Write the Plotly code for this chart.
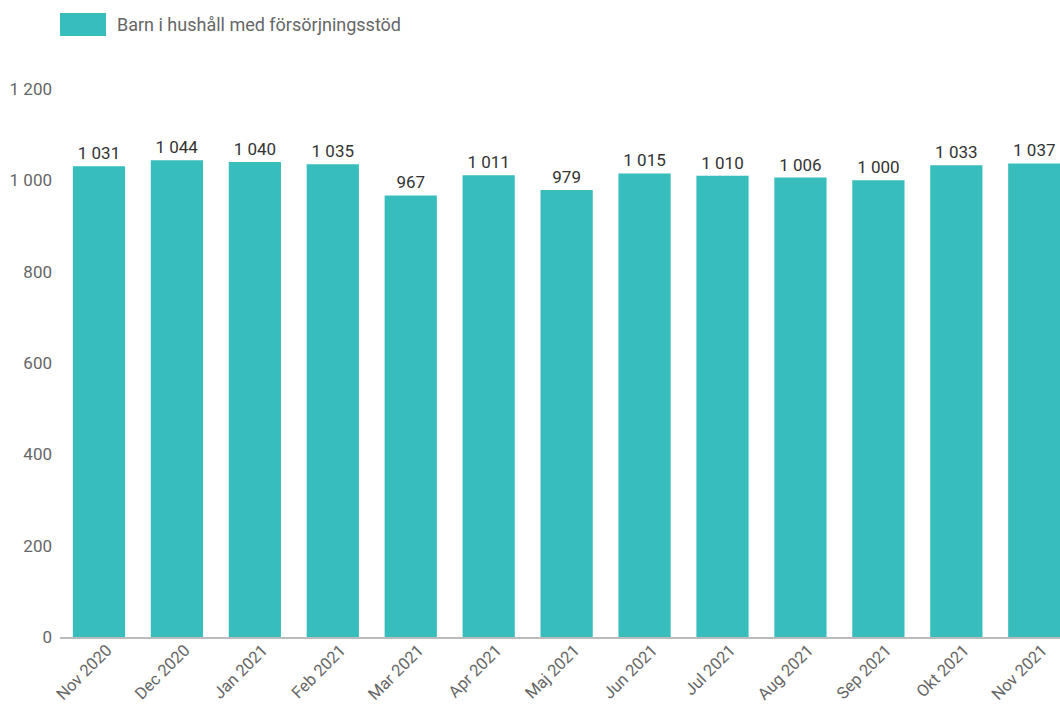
import plotly.graph_objects as go

months = ["Nov 2020", "Dec 2020", "Jan 2021", "Feb 2021", "Mar 2021", "Apr 2021",
          "Maj 2021", "Jun 2021", "Jul 2021", "Aug 2021", "Sep 2021", "Okt 2021", "Nov 2021"]
values = [1031, 1044, 1040, 1035, 967, 1011, 979, 1015, 1010, 1006, 1000, 1033, 1037]
series_name = "Barn i hushåll med försörjningsstöd"
y_ticks = [0, 200, 400, 600, 800, 1000, 1200]

bar_color = "#37BDBC"
font = "Roboto"

W, H = 1060, 706
L, T, B = 60, 89, 69
PW, PH = W - L, H - T - B

fig = go.Figure()
fig.add_trace(go.Bar(
    x=months, y=values, name=series_name,
    marker=dict(color=bar_color, line=dict(width=0)),
    texttemplate="%{y:,}", textposition="outside",
    textfont=dict(family=font, size=17, color="#333333"),
    cliponaxis=False, showlegend=False,
))

fig.update_layout(
    width=W, height=H,
    margin=dict(l=L, r=0, t=T, b=B, pad=0, autoexpand=False),
    plot_bgcolor="white", paper_bgcolor="white",
    separators=", ",
    bargap=0.33,
    font=dict(family=font, size=16, color="#666666"),
    xaxis=dict(
        range=[-0.5, 12.33], tickangle=-45, showgrid=False, automargin=False,
        showline=True, linecolor="#BBBBBB", linewidth=2,
        tickfont=dict(family=font, size=16.5, color="#666666"),
        ticks="", ticklabelshift=8, ticklabelstandoff=-5, fixedrange=True,
    ),
    yaxis=dict(
        range=[0, 1200], tickvals=y_ticks, showgrid=False, zeroline=False,
        automargin=False,
        tickformat=",", ticks="", ticklabelstandoff=7,
        tickfont=dict(family=font, size=17, color="#666666"),
    ),
    shapes=[dict(type="rect", xref="paper", yref="paper",
                 x0=0, x1=46 / PW, y0=1 + (T - 36) / PH, y1=1 + (T - 13) / PH,
                 fillcolor=bar_color, line=dict(width=0))],
    annotations=[dict(text=series_name, xref="paper", yref="paper",
                      x=55 / PW, y=1 + (T - 25) / PH, xanchor="left", yanchor="middle",
                      showarrow=False, font=dict(family=font, size=18, color="#666666"))],
)

fig.write_html(
    "out.html",
    config={"displayModeBar": False, "responsive": False},
    post_script="document.body.style.margin='0';document.body.style.overflow='hidden';",
)
